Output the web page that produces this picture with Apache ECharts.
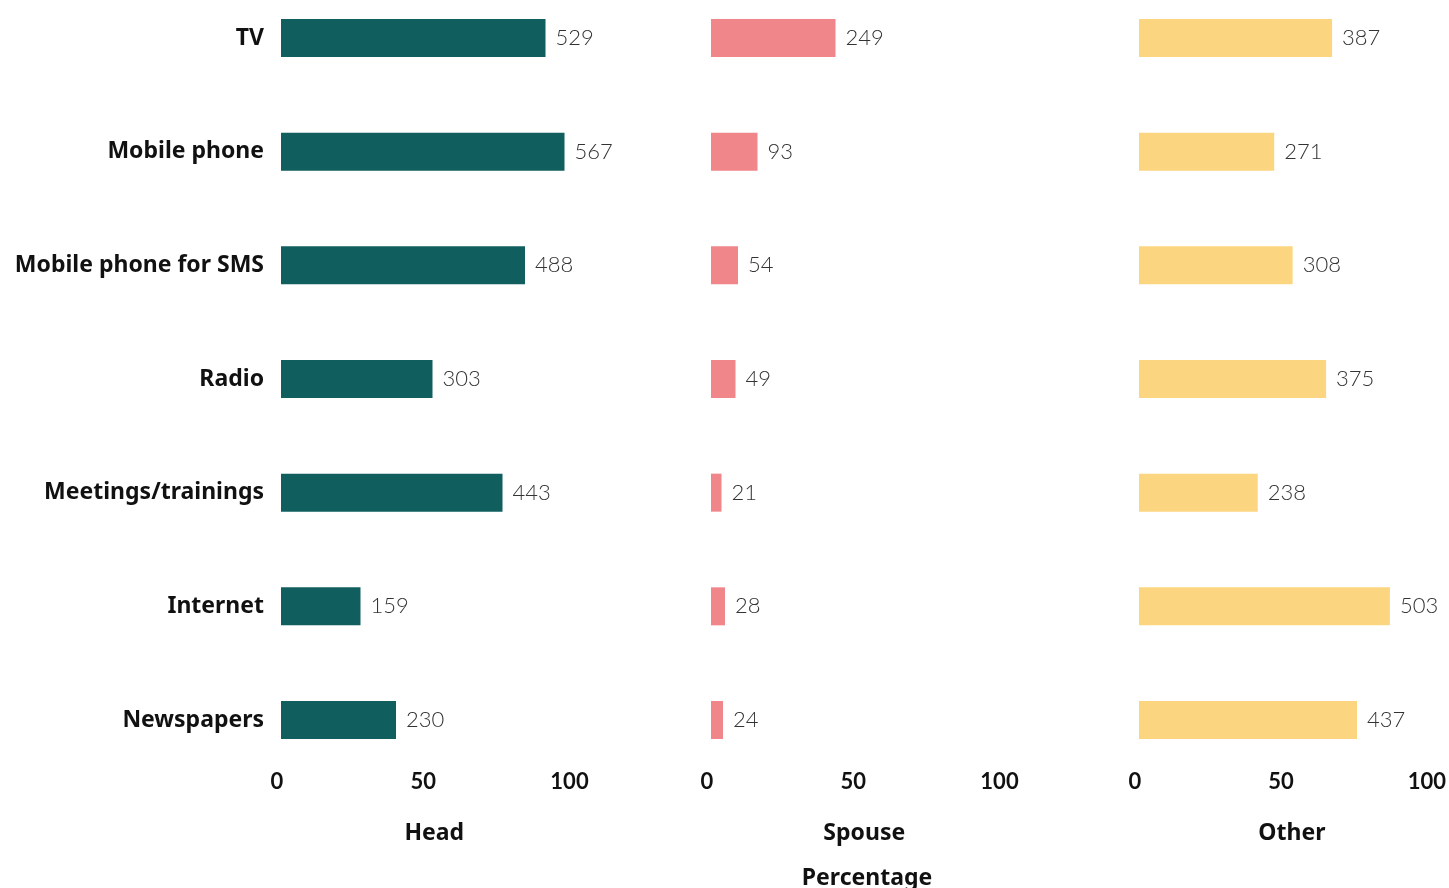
<!DOCTYPE html>
<html>
<head>
<meta charset="utf-8">
<script src="https://cdn.jsdelivr.net/npm/echarts@6/dist/echarts.min.js"></script>
<style>
  html, body { margin: 0; padding: 0; background: #ffffff; }
  #chart { width: 1449px; height: 888px; }
</style>
</head>
<body>
<div id="chart"></div>
<script>
// Information sources, by household member (respondent counts)
const categories = ['TV', 'Mobile phone', 'Mobile phone for SMS', 'Radio', 'Meetings/trainings', 'Internet', 'Newspapers'];
const headCounts = [529, 567, 488, 303, 443, 159, 230];
const spouseCounts = [249, 93, 54, 49, 21, 28, 24];
const otherCounts = [387, 271, 308, 375, 238, 503, 437];
const panelNames = ['Head', 'Spouse', 'Other'];
const percentTicks = [0, 50, 100];
// Number of respondents: 100 % on the percentage axis
const totalRespondents = 585;

const panels = [
  { name: panelNames[0], data: headCounts, color: '#115e5e', left: 281 },
  { name: panelNames[1], data: spouseCounts, color: '#f0858a', left: 711 },
  { name: panelNames[2], data: otherCounts, color: '#fcd581', left: 1139 }
];

const panelWidth = 292.5;
const gridTop = 38;
const gridHeight = 682;

const chart = echarts.init(document.getElementById('chart'));

const option = {
  backgroundColor: '#ffffff',
  animation: false,
  grid: panels.map(p => ({ left: p.left, top: gridTop, width: panelWidth, height: gridHeight, containLabel: false })),
  xAxis: panels.map((p, i) => ({
    gridIndex: i,
    type: 'value',
    min: 0,
    max: totalRespondents,
    interval: totalRespondents / 2,
    name: p.name,
    nameLocation: 'middle',
    nameGap: 102,
    nameTextStyle: { fontFamily: 'Noto Sans', fontWeight: 'bold', fontSize: 23, color: '#111', padding: [0, 0, 0, 14] },
    axisLine: { show: false },
    axisTick: { show: false },
    splitLine: { show: false },
    axisLabel: {
      margin: 51,
      fontFamily: 'Lato',
      fontWeight: 'bold',
      fontSize: 22,
      color: '#111',
      padding: [0, 8, 0, 0],
      showMinLabel: true,
      showMaxLabel: true,
      formatter: v => {
        const pct = Math.round(v / totalRespondents * 100);
        return percentTicks.includes(pct) ? String(pct) : '';
      }
    }
  })),
  yAxis: panels.map((p, i) => ({
    gridIndex: i,
    type: 'category',
    data: categories,
    inverse: true,
    boundaryGap: false,
    axisLine: { show: false },
    axisTick: { show: false },
    splitLine: { show: false },
    axisLabel: {
      show: i === 0,
      margin: 17,
      fontFamily: 'Noto Sans',
      fontWeight: 'bold',
      fontSize: 23,
      color: '#111'
    }
  })),
  series: panels.map((p, i) => ({
    type: 'bar',
    name: p.name,
    xAxisIndex: i,
    yAxisIndex: i,
    data: p.data,
    barWidth: 38,
    itemStyle: { color: p.color },
    label: {
      show: true,
      position: 'right',
      distance: 10,
      fontFamily: 'Lato',
      fontWeight: 300,
      fontSize: 22,
      color: '#333'
    }
  })),
  graphic: [{
    type: 'text',
    x: 867,
    y: 878,
    style: {
      text: 'Percentage',
      fontFamily: 'Noto Sans',
      fontWeight: 'bold',
      fontSize: 23,
      fill: '#111',
      textAlign: 'center',
      textVerticalAlign: 'middle'
    }
  }]
};

chart.setOption(option);
</script>
</body>
</html>
